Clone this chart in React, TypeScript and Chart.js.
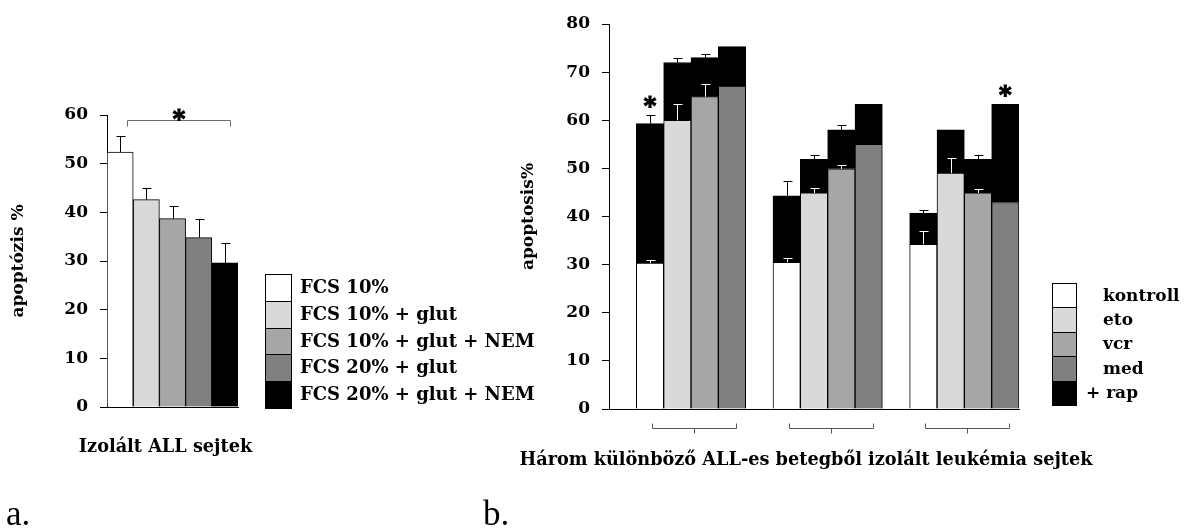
import React, { useEffect, useRef } from "react";
import { Chart, registerables } from "chart.js";

Chart.register(...registerables);

const FAMILY = "'DejaVu Serif', serif";
const BOLD = { family: FAMILY, weight: "bold" as const, size: 17, lineHeight: 1.2 };

// ---------- Panel a ----------
const aCategories = ["Izolált ALL sejtek"];
const aSeries = ["FCS 10%", "FCS 10% + glut", "FCS 10% + glut + NEM", "FCS 20% + glut", "FCS 20% + glut + NEM"];
const aValues = [52.4, 42.6, 38.7, 34.8, 29.6];
const aErrors = [3.2, 2.3, 2.6, 3.9, 4.1];
const aColors = ["#ffffff", "#d9d9d9", "#a6a6a6", "#808080", "#000000"];
const aYTitle = "apoptózis %";
const aBracketLevel = 59;

// ---------- Panel b ----------
const bCategories = ["1", "2", "3"];
const bSeries = ["kontroll", "eto", "vcr", "med"];
const bRapLabel = "+ rap";
const bColors = ["#ffffff", "#d9d9d9", "#a6a6a6", "#808080"];
const bRapColor = "#000000";

const kontrollBase = [30.3, 30.5, 34.2];
const kontrollBaseErr = [0.7, 0.9, 2.8];
const kontrollRap = [59.3, 44.3, 40.7];
const kontrollRapErr = [1.8, 3.1, 0.7];

const etoBase = [60.0, 44.9, 49.0];
const etoBaseErr = [3.3, 1.0, 3.2];
const etoRap = [72.0, 51.9, 58.0];
const etoRapErr = [0.9, 0.9, null];

const vcrBase = [64.9, 49.9, 44.9];
const vcrBaseErr = [2.6, 0.7, 0.9];
const vcrRap = [73.0, 58.0, 51.9];
const vcrRapErr = [0.8, 1.0, 0.8];

const medBase = [67.1, 55.0, 42.9];
const medBaseErr = [null, null, null];
const medRap = [75.3, 63.3, 63.3];
const medRapErr = [null, null, null];

const bBase = [kontrollBase, etoBase, vcrBase, medBase];
const bBaseErr = [kontrollBaseErr, etoBaseErr, vcrBaseErr, medBaseErr];
const bRap = [kontrollRap, etoRap, vcrRap, medRap];
const bRapErr = [kontrollRapErr, etoRapErr, vcrRapErr, medRapErr];
const bStars = [[0, 0], [3, 2]]; // [series, group]
const bYTitle = "apoptosis%";
const bXTitle = "Három különböző ALL-es betegből izolált leukémia sejtek";

const CAP = 4;

function drawErr(ctx: CanvasRenderingContext2D, x: number, y0: number, y1: number, color: string) {
  const xx = Math.round(x) + 0.5;
  const yy = Math.round(y1) + 0.5;
  ctx.save();
  ctx.strokeStyle = color;
  ctx.lineWidth = 1;
  ctx.beginPath();
  ctx.moveTo(xx, y0);
  ctx.lineTo(xx, yy);
  ctx.moveTo(xx - CAP, yy);
  ctx.lineTo(xx + CAP + 1, yy);
  ctx.stroke();
  ctx.restore();
}

function drawStar(ctx: CanvasRenderingContext2D, x: number, cy: number) {
  ctx.save();
  ctx.fillStyle = "#000";
  ctx.strokeStyle = "#000";
  ctx.lineWidth = 1.2;
  ctx.font = `bold 24px ${FAMILY}`;
  ctx.textAlign = "center";
  ctx.textBaseline = "alphabetic";
  ctx.fillText("*", x, cy + 14);
  ctx.strokeText("*", x, cy + 14);
  ctx.restore();
}

function drawText(ctx: CanvasRenderingContext2D, text: string, x: number, y: number, font: string, align: CanvasTextAlign) {
  ctx.save();
  ctx.fillStyle = "#000";
  ctx.font = font;
  ctx.textAlign = align;
  ctx.textBaseline = "middle";
  ctx.fillText(text, x, y);
  ctx.restore();
}

function drawLegend(ctx: CanvasRenderingContext2D, x: number, y: number, w: number, h: number, colors: string[], labels: string[], textX: number[], size: number) {
  ctx.save();
  colors.forEach((c, i) => {
    const top = Math.round(y + i * h);
    const bottom = Math.round(y + (i + 1) * h);
    ctx.fillStyle = c;
    ctx.fillRect(x, top, w, bottom - top);
    ctx.strokeStyle = "#000";
    ctx.lineWidth = 1;
    ctx.strokeRect(x + 0.5, top + 0.5, w - 1, bottom - top);
  });
  ctx.restore();
  labels.forEach((t, i) => {
    drawText(ctx, t, textX[i], y + (i + 0.5) * h + 1, `bold ${size}px ${FAMILY}`, "left");
  });
}

const panelAPlugin = {
  id: "panelA",
  afterDatasetsDraw(chart: any) {
    const ctx = chart.ctx as CanvasRenderingContext2D;
    const y = chart.scales.y;
    aValues.forEach((v, i) => {
      const el = chart.getDatasetMeta(i).data[0];
      if (!el) return;
      drawErr(ctx, el.x, el.y, y.getPixelForValue(v + aErrors[i]), "#000");
    });
    const first = chart.getDatasetMeta(0).data[0];
    const last = chart.getDatasetMeta(aValues.length - 1).data[0];
    const x1 = Math.round(first.x + 7) + 0.5;
    const x2 = Math.round(last.x + 5) + 0.5;
    const by = Math.round(y.getPixelForValue(aBracketLevel)) + 0.5;
    ctx.save();
    ctx.strokeStyle = "#6b6b6b";
    ctx.lineWidth = 1;
    ctx.beginPath();
    ctx.moveTo(x1, by + 6);
    ctx.lineTo(x1, by);
    ctx.lineTo(x2, by);
    ctx.lineTo(x2, by + 6);
    ctx.stroke();
    ctx.restore();
    drawStar(ctx, (x1 + x2) / 2, by - 8);
  },
  afterDraw(chart: any) {
    const ctx = chart.ctx as CanvasRenderingContext2D;
    const ca = chart.chartArea;
    drawText(ctx, aCategories[0], (ca.left + ca.right) / 2 - 7, ca.bottom + 40, `bold 17.7px ${FAMILY}`, "center");
    drawLegend(ctx, 265, 274, 27, 26.8, aColors, aSeries, aSeries.map(() => 300), 18);
    ctx.save();
    ctx.fillStyle = "#000";
    ctx.font = `35px 'Liberation Serif', serif`;
    ctx.textBaseline = "alphabetic";
    ctx.fillText("a.", 6, 525);
    ctx.restore();
  },
};

const panelBPlugin = {
  id: "panelB",
  afterDatasetsDraw(chart: any) {
    const ctx = chart.ctx as CanvasRenderingContext2D;
    const y = chart.scales.y;
    bSeries.forEach((_, s) => {
      const baseMeta = chart.getDatasetMeta(1 + 2 * s);
      const rapMeta = chart.getDatasetMeta(2 + 2 * s);
      bCategories.forEach((__, j) => {
        const be = baseMeta.data[j];
        const re = rapMeta.data[j];
        const bErr = bBaseErr[s][j];
        const rErr = bRapErr[s][j];
        if (bErr != null) drawErr(ctx, be.x, be.y, y.getPixelForValue(bBase[s][j] + bErr), "#ffffff");
        if (rErr != null) drawErr(ctx, re.x, re.y, y.getPixelForValue(bRap[s][j] + rErr), "#000");
      });
    });
    bStars.forEach(([s, j]) => {
      const re = chart.getDatasetMeta(2 + 2 * s).data[j];
      const err = bRapErr[s][j];
      const top = y.getPixelForValue(bRap[s][j] + (err ?? 0));
      drawStar(ctx, re.x, top - 15);
    });
    // group brackets below the axis
    const bottom = chart.chartArea.bottom;
    ctx.save();
    ctx.strokeStyle = "#555";
    ctx.lineWidth = 1;
    bCategories.forEach((_, j) => {
      const xa = chart.getDatasetMeta(1).data[j].x;
      const xb = chart.getDatasetMeta(1 + 2 * (bSeries.length - 1)).data[j].x;
      const c = Math.round((xa + xb) / 2 + 3) + 0.5;
      const l = c - 42;
      const r = c + 42;
      const hy = Math.round(bottom + 19) + 0.5;
      ctx.beginPath();
      ctx.moveTo(l, hy - 5);
      ctx.lineTo(l, hy);
      ctx.lineTo(r, hy);
      ctx.lineTo(r, hy - 5);
      ctx.moveTo(c, hy);
      ctx.lineTo(c, hy + 5);
      ctx.stroke();
    });
    ctx.restore();
  },
  afterDraw(chart: any) {
    const ctx = chart.ctx as CanvasRenderingContext2D;
    const ca = chart.chartArea;
    drawText(ctx, bXTitle, (ca.left + ca.right) / 2 - 8, ca.bottom + 51, `bold 17.7px ${FAMILY}`, "center");
    drawLegend(
      ctx,
      1052,
      283,
      25,
      24.4,
      [...bColors, bRapColor],
      [...bSeries, bRapLabel],
      [1103, 1103, 1103, 1103, 1086],
      17
    );
    ctx.save();
    ctx.fillStyle = "#000";
    ctx.font = `35px 'Liberation Serif', serif`;
    ctx.textBaseline = "alphabetic";
    ctx.fillText("b.", 483, 525);
    ctx.restore();
  },
};

export default function App() {
  const refA = useRef<HTMLCanvasElement>(null);
  const refB = useRef<HTMLCanvasElement>(null);

  useEffect(() => {
    const chartA = new Chart(refA.current as HTMLCanvasElement, {
      type: "bar",
      data: {
        labels: aCategories,
        datasets: aSeries.map((name, i) => ({
          label: name,
          data: [aValues[i]],
          backgroundColor: aColors[i],
          borderColor: "#000",
          borderWidth: 1,
          categoryPercentage: 1,
          barPercentage: 1,
        })),
      },
      options: {
        responsive: false,
        animation: false,
        events: [],
        layout: { padding: { left: 0, right: 949, top: 115, bottom: 0 } },
        plugins: { legend: { display: false }, tooltip: { enabled: false } },
        scales: {
          x: {
            grid: { display: false },
            border: { display: true, color: "#000", width: 1 },
            ticks: { display: false },
            title: { display: false },
            afterFit: (s: any) => {
              s.height = 122;
            },
          },
          y: {
            min: 0,
            max: 60,
            ticks: { stepSize: 10, color: "#000", font: BOLD, padding: 12 },
            grid: { drawOnChartArea: false, color: "#000", tickLength: 7 },
            border: { display: true, color: "#000", width: 1 },
            title: { display: true, text: aYTitle, color: "#000", font: BOLD, padding: { top: 8, bottom: 0 } },
            afterFit: (s: any) => {
              s.width = 107;
            },
          },
        },
      } as any,
      plugins: [panelAPlugin],
    });

    const datasets: any[] = [
      {
        label: "",
        data: bCategories.map(() => 0),
        stack: "gap",
        backgroundColor: "rgba(0,0,0,0)",
        borderWidth: 0,
        categoryPercentage: 1,
        barPercentage: 1,
      },
    ];
    bSeries.forEach((name, s) => {
      datasets.push({
        label: name,
        data: bBase[s],
        stack: "s" + s,
        backgroundColor: bColors[s],
        borderColor: "#000",
        borderWidth: 1,
        categoryPercentage: 1,
        barPercentage: 1,
      });
      datasets.push({
        label: name + " " + bRapLabel,
        data: bRap[s].map((v, j) => v - bBase[s][j]),
        stack: "s" + s,
        backgroundColor: bRapColor,
        borderColor: "#000",
        borderWidth: 1,
        categoryPercentage: 1,
        barPercentage: 1,
      });
    });

    const chartB = new Chart(refB.current as HTMLCanvasElement, {
      type: "bar",
      data: { labels: bCategories, datasets },
      options: {
        responsive: false,
        animation: false,
        events: [],
        layout: { padding: { left: 500, right: 168, top: 24, bottom: 0 } },
        plugins: { legend: { display: false }, tooltip: { enabled: false } },
        scales: {
          x: {
            grid: { display: false },
            border: { display: true, color: "#000", width: 1 },
            ticks: { display: false },
            title: { display: false },
            afterFit: (s: any) => {
              s.height = 120;
            },
          },
          y: {
            stacked: true,
            min: 0,
            max: 80,
            ticks: { stepSize: 10, color: "#000", font: BOLD, padding: 12 },
            grid: { drawOnChartArea: false, color: "#000", tickLength: 7 },
            border: { display: true, color: "#000", width: 1 },
            title: { display: true, text: bYTitle, color: "#000", font: BOLD, padding: { top: 18, bottom: 0 } },
            afterFit: (s: any) => {
              s.width = 109;
            },
          },
        },
      } as any,
      plugins: [panelBPlugin],
    });

    return () => {
      chartA.destroy();
      chartB.destroy();
    };
  }, []);

  return (
    <div style={{ position: "absolute", left: 0, top: 0, width: 1187, height: 529, background: "#fff" }}>
      <canvas ref={refA} width={1187} height={529} style={{ position: "absolute", left: 0, top: 0, width: 1187, height: 529 }} />
      <canvas ref={refB} width={1187} height={529} style={{ position: "absolute", left: 0, top: 0, width: 1187, height: 529 }} />
    </div>
  );
}
